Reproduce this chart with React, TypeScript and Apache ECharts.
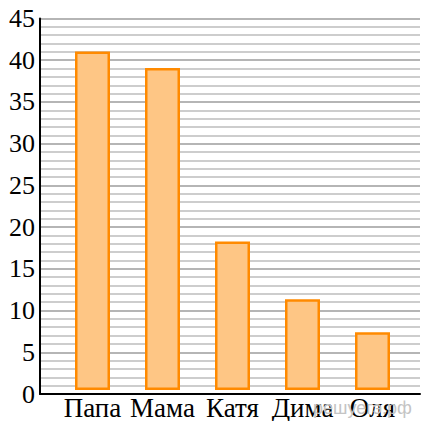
import React, { useEffect, useRef } from "react";
import * as echarts from "echarts";

const categories = ["Папа", "Мама", "Катя", "Дима", "Оля"];
const values = [41, 39, 18, 11, 7];
const yMin = 0;
const yMax = 45;
const watermark = "решуегэ.рф";

export default function App() {
  const ref = useRef<HTMLDivElement>(null);
  useEffect(() => {
    if (!ref.current) return;
    const chart = echarts.init(ref.current, undefined, { renderer: "svg" });
    const font = "Liberation Serif";
    chart.setOption({
      animation: false,
      backgroundColor: "#ffffff",
      grid: [
        { left: 40, right: 1, top: 18.5, bottom: 27 },
        { left: 57.5, width: 350, top: 18.5, bottom: 27 },
      ],
      xAxis: [
        {
          gridIndex: 0,
          type: "value",
          min: 0,
          max: 1,
          axisLine: { show: true, onZero: false, lineStyle: { color: "#000", width: 2 } },
          axisTick: { show: false },
          axisLabel: { show: false },
          splitLine: { show: false },
        },
        {
          gridIndex: 1,
          type: "category",
          data: categories,
          axisLine: { show: false },
          axisTick: { show: false },
          axisLabel: {
            color: "#000",
            fontSize: 27,
            fontFamily: font,
            margin: 4,
            interval: 0,
          },
        },
      ],
      yAxis: [
        {
          gridIndex: 0,
          type: "value",
          min: yMin,
          max: yMax,
          interval: 1,
          axisLine: { show: true, lineStyle: { color: "#000", width: 2 } },
          axisTick: { show: false },
          axisLabel: {
            color: "#000",
            fontSize: 26,
            fontFamily: font,
            margin: 5,
            formatter: (v: number) => (v % 5 === 0 ? String(v) : ""),
          },
          splitLine: {
            show: true,
            lineStyle: { color: ["#9c9c9c", "#bdbdbd", "#bdbdbd", "#bdbdbd", "#bdbdbd"], width: 1.6 },
          },
        },
        {
          gridIndex: 1,
          type: "value",
          min: yMin,
          max: yMax,
          show: false,
          splitLine: { show: false },
        },
      ],
      series: [
        {
          type: "bar",
          xAxisIndex: 1,
          yAxisIndex: 1,
          data: values,
          barWidth: 35,
          itemStyle: { color: "#fec685", borderColor: "#ff8a00", borderWidth: 2.5 },
          z: 3,
        },
      ],
      graphic: [
        {
          type: "text",
          left: 313,
          top: 399,
          z: 1,
          style: {
            text: watermark,
            fill: "#c4c4c4",
            fontSize: 18,
            fontFamily: "Liberation Sans",
          },
        },
      ],
    });
    return () => chart.dispose();
  }, []);
  return <div ref={ref} style={{ width: 421, height: 421, position: "fixed", left: 0, top: 0 }} />;
}
